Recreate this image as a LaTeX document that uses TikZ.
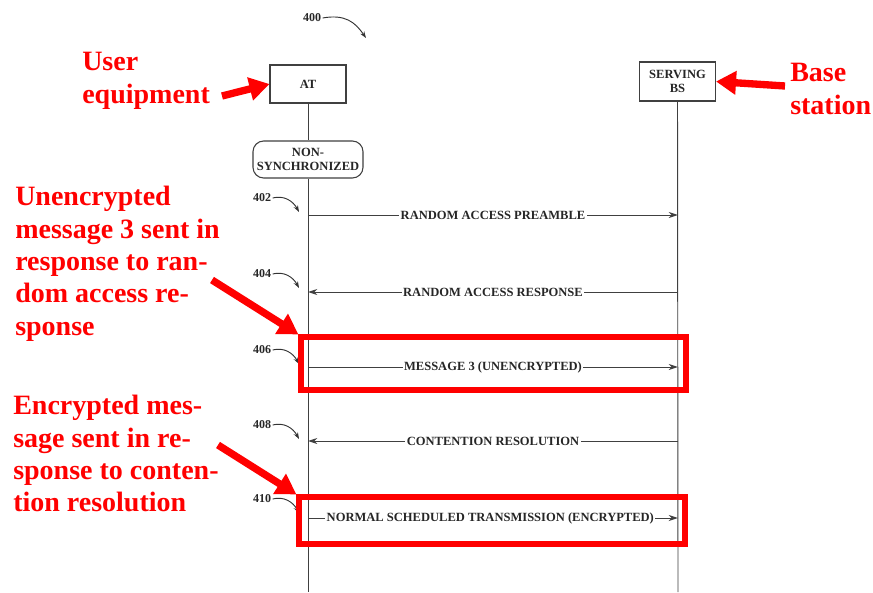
\documentclass[tikz,border=0pt]{standalone}
\usepackage{fontspec}
\setmainfont{Liberation Serif}
\usetikzlibrary{arrows.meta}
\begin{document}
\begin{tikzpicture}[x=0.75pt,y=-0.75pt,
  lbl/.style={font=\bfseries\fontsize{9.4}{10}\selectfont, text=black!85},
  box/.style={draw=black!75, line width=0.8pt, fill=white, minimum width=57pt, minimum height=28.5pt, inner sep=0.5pt, align=center, lbl},
  msg/.style={fill=white, inner sep=1pt, lbl},
  life/.style={draw=black!75, line width=0.7pt},
  arr/.style={life, -{Stealth[length=7pt,width=4.5pt]}},
  redtxt/.style={text=red, font=\bfseries\fontsize{21}{24.3}\selectfont, align=left, anchor=north west, inner sep=0pt},
  redarrow/.style={draw=red, line width=5.5pt, -{Triangle[length=15pt,width=17pt]}},
  redbox/.style={draw=red, line width=3.8pt},
  num/.style={font=\bfseries\fontsize{9}{10}\selectfont, inner sep=1pt, text=black!85},
  numarr/.style={draw=black!80, line width=0.7pt, -{Stealth[length=5pt,width=3.5pt]}}
]
\useasboundingbox (0,0) rectangle (873,592);
\fill[white] (0,0) rectangle (873,592);

% figure number
\node[num] (n400) at (312,18) {400};
\coordinate (t400) at (366,38);
\draw[numarr] (n400.east) .. controls (345,14) and (355,22) .. (t400);

% participants
\node[box] (at) at (308,84) {AT};
\node[box, minimum height=29.25pt] (bs) at (677.5,81.5) {SERVING\\BS};
\node[box, rounded corners=8pt, minimum width=82.5pt, minimum height=27.75pt] (ns) at (308,159.5) {NON-\\SYNCHRONIZED};

\coordinate (atend) at (308,592);
\coordinate (bsend) at (678,592);
\draw[life] (at.south) -- (ns.north);
\draw[life] (ns.south) -- (atend);
\draw[life] (bs.south) -- (bsend);

% message anchor points
\foreach \i/\y in {1/215,2/292,3/367,4/441,5/518}{
  \coordinate (a\i) at (308,\y);
  \coordinate (b\i) at (678,\y);
}

% step numbers
\foreach \n/\y in {402/198,404/274,406/350,408/425,410/499}{
  \node[num] (s\n) at (262,\y) {\n};
  \coordinate (e\n) at (299,\y+14);
  \draw[numarr] (s\n.east) .. controls (284,\y-3) and (293,\y+3) .. (e\n);
}

% messages
\draw[arr] (a1) -- node[msg]{RANDOM ACCESS PREAMBLE} (b1);
\draw[arr] (b2) -- node[msg]{RANDOM ACCESS RESPONSE} (a2);
\draw[arr] (a3) -- node[msg]{MESSAGE 3 (UNENCRYPTED)} (b3);
\draw[arr] (b4) -- node[msg]{CONTENTION RESOLUTION} (a4);
\draw[arr] (a5) -- node[msg, xshift=-2pt]{NORMAL SCHEDULED TRANSMISSION (ENCRYPTED)} (b5);

% red highlight boxes
\node[redbox, minimum width=288.75pt, minimum height=39.75pt] (hb1) at (493.5,363.5) {};
\node[redbox, minimum width=289.5pt, minimum height=35.25pt] (hb2) at (492,520.5) {};

% red annotations
\node[redtxt] (ue) at (82,52) {User\\equipment};
\node[redtxt] (bst) at (790,63) {Base\\station};
\node[redtxt] (unenc) at (15,186) {Unencrypted\\message 3 sent in\\response to ran-\\dom access re-\\sponse};
\node[redtxt] (enc) at (13,395) {Encrypted mes-\\sage sent in re-\\sponse to conten-\\tion resolution};

\coordinate (u1) at (222,96);
\coordinate (u2) at (785,86);
\coordinate (u3) at (212,280);
\coordinate (u4) at (218,445);
\draw[redarrow] (u1) -- (at.west);
\draw[redarrow] (u2) -- (bs.east);
\draw[redarrow] (u3) -- (hb1.north west);
\draw[redarrow] (u4) -- (hb2.north west);
\end{tikzpicture}
\end{document}
